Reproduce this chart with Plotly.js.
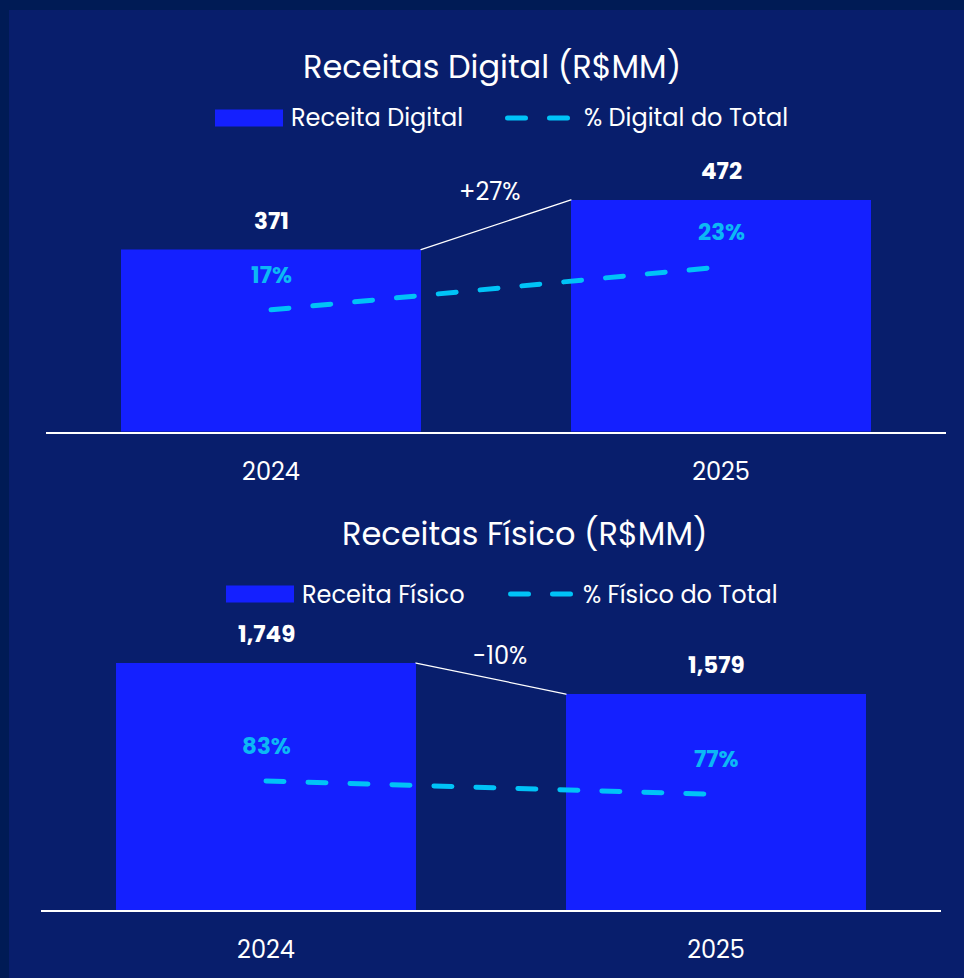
<!DOCTYPE html>
<html><head><meta charset="utf-8">
<script src="https://cdn.plot.ly/plotly-3.0.1.min.js"></script>
<style>
html,body{margin:0;padding:0;background:#001b55;width:964px;height:978px;overflow:hidden}
#chart{position:absolute;left:9px;top:10px;width:955px;height:968px}
.scatterlayer .js-line{stroke-linecap:round}
.shapelayer path{stroke-linecap:round}
</style></head><body><div id="chart"></div>
<script>
// ---- data ----
const years = ['2024', '2025'];
const digitalRevenue = [371, 472];
const digitalShare = [17, 23];
const physicalRevenue = [1749, 1579];
const physicalShare = [83, 77];
const titles = ['Receitas Digital (R$MM)', 'Receitas Físico (R$MM)'];
const barNames = ['Receita Digital', 'Receita Físico'];
const lineNames = ['% Digital do Total', '% Físico do Total'];

// ---- style ----
const FONT = 'Poppins, "Open Sans", sans-serif';
const PANEL = '#081e6c';
const BAR = '#1420ff';
const CYAN = '#00c3f7';
const CYANTXT = '#0cb8f5';
const W = 955, H = 968;
const fx = p => (p - 9) / W;
const fy = p => 1 - (p - 10) / H;
const BARW = 0.6667;
const DASH = '18px,24px';

const traces = [
  {type: 'bar', x: years, y: digitalRevenue, name: barNames[0], xaxis: 'x', yaxis: 'y',
   marker: {color: BAR}, width: BARW, showlegend: false, hoverinfo: 'x+y'},
  {type: 'scatter', mode: 'lines', x: years, y: digitalShare, name: lineNames[0], xaxis: 'x', yaxis: 'y2',
   line: {color: CYAN, width: 5, dash: DASH}, showlegend: false},
  {type: 'bar', x: years, y: physicalRevenue, name: barNames[1], xaxis: 'x2', yaxis: 'y3',
   marker: {color: BAR}, width: BARW, showlegend: false, hoverinfo: 'x+y'},
  {type: 'scatter', mode: 'lines', x: years, y: physicalShare, name: lineNames[1], xaxis: 'x2', yaxis: 'y4',
   line: {color: CYAN, width: 5, dash: DASH}, showlegend: false}
];

const annotations = [];
const shapes = [];

function addPanel(cfg) {
  // title
  annotations.push({xref: 'paper', yref: 'paper', x: fx(cfg.titleX), y: fy(cfg.titleY),
    xanchor: 'center', yanchor: 'middle', showarrow: false, text: cfg.title,
    font: {family: FONT, size: 32, color: '#ffffff'}});
  // legend (bar swatch, text, dashed line, text)
  shapes.push({type: 'rect', xref: 'paper', yref: 'paper', x0: fx(cfg.leg[0]), x1: fx(cfg.leg[0] + 68),
    y0: fy(cfg.legY - 8.5), y1: fy(cfg.legY + 8.5), fillcolor: BAR, line: {width: 0}});
  annotations.push({xref: 'paper', yref: 'paper', x: fx(cfg.leg[1] - 2), y: fy(cfg.legY), xanchor: 'left', yanchor: 'middle',
    showarrow: false, text: cfg.barName, font: {family: FONT, size: 24, color: '#ffffff'}});
  shapes.push({type: 'line', xref: 'paper', yref: 'paper', x0: fx(cfg.leg[2] + 2.5), x1: fx(cfg.leg[2] + 64),
    y0: fy(cfg.legY), y1: fy(cfg.legY), line: {color: CYAN, width: 5, dash: DASH}});
  annotations.push({xref: 'paper', yref: 'paper', x: fx(cfg.leg[3] - 2), y: fy(cfg.legY), xanchor: 'left', yanchor: 'middle',
    showarrow: false, text: cfg.lineName, font: {family: FONT, size: 24, color: '#ffffff'}});
  // value labels (category index positions)
  cfg.vals.forEach((v, i) => {
    annotations.push({xref: cfg.xa, yref: cfg.ya, x: i, y: v, yshift: 29, showarrow: false,
      text: '<b>' + v.toLocaleString('en-US') + '</b>', font: {family: FONT, size: 23, color: '#ffffff'}});
  });
  cfg.pcts.forEach((p, i) => {
    annotations.push({xref: cfg.xa, yref: cfg.ya2, x: i, y: p, yshift: 35, showarrow: false,
      text: '<b>' + p + '%</b>', font: {family: FONT, size: 23, color: CYANTXT}});
  });
  // growth connector
  const g = Math.round((cfg.vals[1] / cfg.vals[0] - 1) * 100);
  shapes.push({type: 'line', xref: cfg.xa, yref: cfg.ya, x0: BARW / 2, x1: 1 - BARW / 2,
    y0: cfg.vals[0], y1: cfg.vals[1], line: {color: '#ffffff', width: 1.3}});
  annotations.push({xref: cfg.xa, yref: cfg.ya, x: 0.5, y: Math.max(...cfg.vals), yshift: 8, xshift: cfg.gShift,
    showarrow: false, text: (g > 0 ? '+' : '') + g + '%', font: {family: FONT, size: 24, color: '#ffffff'}});
}

addPanel({title: titles[0], titleX: 492, titleY: 66, legY: 118, leg: [215, 291, 505, 584], gShift: -6,
  barName: barNames[0], lineName: lineNames[0], vals: digitalRevenue, pcts: digitalShare,
  xa: 'x', ya: 'y', ya2: 'y2'});
addPanel({title: titles[1], titleX: 525, titleY: 533, legY: 594, leg: [226, 302, 508, 583], gShift: 9,
  barName: barNames[1], lineName: lineNames[1], vals: physicalRevenue, pcts: physicalShare,
  xa: 'x2', ya: 'y3', ya2: 'y4'});

const xCommon = {type: 'category', showgrid: false, zeroline: false, showline: true, linecolor: '#ffffff',
  linewidth: 2, ticks: '', ticklabelstandoff: 17, tickfont: {family: FONT, size: 24, color: '#ffffff'},
  range: [-0.5, 1.5], fixedrange: true};
const yCommon = {visible: false, showgrid: false, zeroline: false, fixedrange: true};

const topY0 = 150, topY1 = 431.7, botY0 = 630, botY1 = 910;

const layout = {
  width: W, height: H,
  margin: {l: 0, r: 0, t: 0, b: 0},
  paper_bgcolor: PANEL, plot_bgcolor: 'rgba(0,0,0,0)',
  showlegend: false,
  xaxis: Object.assign({}, xCommon, {domain: [fx(46), fx(946)], anchor: 'y'}),
  yaxis: Object.assign({}, yCommon, {domain: [fy(topY1), fy(topY0)], anchor: 'x', range: [0, 573.7]}),
  yaxis2: Object.assign({}, yCommon, {overlaying: 'y', anchor: 'x', side: 'right', range: [0, 39.3]}),
  xaxis2: Object.assign({}, xCommon, {domain: [fx(41), fx(941)], anchor: 'y3'}),
  yaxis3: Object.assign({}, yCommon, {domain: [fy(botY1), fy(botY0)], anchor: 'x2', range: [395, 1930]}),
  yaxis4: Object.assign({}, yCommon, {overlaying: 'y3', anchor: 'x2', side: 'right', range: [24.8, 151.1]}),
  annotations: annotations,
  shapes: shapes
};

Plotly.newPlot('chart', traces, layout, {displayModeBar: false, staticPlot: true});
</script></body></html>
